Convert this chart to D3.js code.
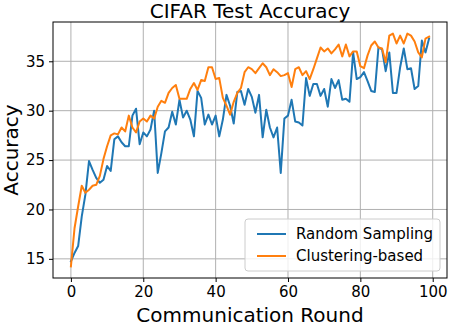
<!DOCTYPE html>
<html>
<head>
<meta charset="utf-8">
<script src="https://cdn.jsdelivr.net/npm/d3@7"></script>
<style>
  body { margin: 0; background: #fff; }
  text { font-family: "DejaVu Sans", sans-serif; fill: #000; }
  .grid line { stroke: #b0b0b0; stroke-width: 1; }
  .axis path, .axis line { stroke: #000; }
  .axis text { font-size: 15px; }
</style>
</head>
<body>
<div id="graph"></div>
<script>
// chart data
var seriesNames = ["Random Sampling", "Clustering-based"];
var xTicks = [0, 20, 40, 60, 80, 100];
var yTicks = [15, 20, 25, 30, 35];

var randomSampling = [
  14.75, 15.6, 16.3, 19.3, 21.5, 24.9, 24.0, 23.2, 22.7, 23.0,
  24.4, 23.9, 27.1, 27.4, 26.8, 26.4, 26.4, 29.5, 30.2, 26.6,
  27.8, 27.4, 28.1, 30.0, 23.7, 25.7, 27.9, 28.3, 29.9, 28.6,
  31.1, 29.3, 30.0, 29.1, 27.4, 32.0, 31.3, 28.6, 29.6, 28.6,
  29.5, 27.4, 29.1, 31.6, 30.5, 28.7, 31.9, 32.0, 30.6, 32.2,
  31.4, 29.8, 31.6, 27.3, 30.1, 28.3, 27.3, 28.3, 23.7, 29.2,
  29.5, 31.1, 28.9, 28.8, 28.5, 33.3, 31.5, 32.7, 32.7, 31.5,
  32.2, 30.4, 33.2, 32.3, 33.1, 31.1, 31.2, 30.9, 35.9, 33.2,
  33.4, 33.9, 33.0, 32.0, 31.9, 36.4, 36.2, 34.0, 35.9, 31.8,
  31.8, 34.4, 36.3, 34.2, 34.3, 32.2, 32.5, 37.1, 35.9, 37.3
];

var clusteringBased = [
  14.24, 18.1, 20.3, 22.4, 21.7, 22.0, 22.4, 22.5, 23.4, 25.1,
  26.4, 27.5, 27.7, 27.6, 28.3, 27.9, 29.5, 28.3, 27.8, 28.9,
  29.2, 28.9, 29.5, 29.2, 30.4, 31.0, 30.8, 31.8, 32.3, 32.6,
  31.2, 31.2, 31.2, 32.2, 32.8, 32.1, 33.1, 33.0, 34.4, 34.4,
  33.2, 33.3, 31.3, 30.5, 29.6, 30.9, 31.8, 32.3, 33.9, 34.4,
  34.2, 33.8, 34.3, 34.8, 34.4, 33.6, 34.2, 33.9, 33.5, 33.6,
  33.8, 32.4, 34.2, 34.4, 33.6, 34.0, 33.2, 34.2, 35.3, 36.4,
  36.0, 36.3, 35.8, 36.2, 36.7, 35.5, 36.7, 35.5, 36.0, 36.0,
  34.5, 34.3, 35.6, 36.6, 37.0, 36.4, 36.3, 34.9, 37.6, 37.8,
  36.8, 37.6, 36.8, 37.8, 37.6, 37.0, 35.9, 35.4, 37.3, 37.5
];

var colors = ["#1f77b4", "#ff7f0e"];

// Set the dimensions of the canvas
var margin = {top: 22, right: 2, bottom: 49, left: 53},
    width = 449 - margin.left - margin.right,
    height = 327 - margin.top - margin.bottom;

var series = [randomSampling, clusteringBased];
var n = randomSampling.length;

// matplotlib style 5% padding
var xPad = (n - 1) * 0.05;
var allVals = randomSampling.concat(clusteringBased);
var yMin = d3.min(allVals), yMax = d3.max(allVals);
var yPad = (yMax - yMin) * 0.05;

var x = d3.scaleLinear().domain([-xPad, n - 1 + xPad]).range([0, width]);
var y = d3.scaleLinear().domain([yMin - yPad, yMax + yPad]).range([height, 0]);

var svg = d3.select("#graph")
    .append("svg")
        .attr("width", 449)
        .attr("height", 327)
    .append("g")
        .attr("transform", "translate(" + margin.left + "," + margin.top + ")");

// grid
svg.append("g")
    .attr("class", "grid")
    .selectAll("line.gx")
    .data(xTicks)
    .enter().append("line")
    .attr("x1", function(d) { return x(d); })
    .attr("x2", function(d) { return x(d); })
    .attr("y1", 0)
    .attr("y2", height);

svg.select(".grid")
    .selectAll("line.gy")
    .data(yTicks)
    .enter().append("line")
    .attr("class", "gy")
    .attr("x1", 0)
    .attr("x2", width)
    .attr("y1", function(d) { return y(d); })
    .attr("y2", function(d) { return y(d); });

// lines
var valueline = d3.line()
    .x(function(d, i) { return x(i); })
    .y(function(d) { return y(d); });

svg.selectAll(".series")
    .data(series)
    .enter().append("path")
    .attr("class", "series")
    .attr("d", valueline)
    .style("fill", "none")
    .style("stroke", function(d, i) { return colors[i]; })
    .style("stroke-width", 2)
    .style("stroke-linejoin", "round")
    .style("stroke-linecap", "square");

// axes
svg.append("g")
    .attr("class", "axis xaxis")
    .attr("transform", "translate(0," + height + ")")
    .call(d3.axisBottom(x).tickValues(xTicks).tickSize(4).tickSizeOuter(0).tickPadding(4));

svg.append("g")
    .attr("class", "axis yaxis")
    .call(d3.axisLeft(y).tickValues(yTicks).tickSize(4).tickSizeOuter(0).tickPadding(4));

svg.selectAll(".axis .domain").remove();

// frame
svg.append("rect")
    .attr("width", width)
    .attr("height", height)
    .style("fill", "none")
    .style("stroke", "#000")
    .style("stroke-width", 1);

// title and labels
svg.append("text")
    .attr("text-anchor", "middle")
    .attr("x", width / 2)
    .attr("y", -4)
    .style("font-size", "20px")
    .text("CIFAR Test Accuracy");

svg.append("text")
    .attr("text-anchor", "middle")
    .attr("x", width / 2)
    .attr("y", height + 44)
    .style("font-size", "20px")
    .text("Communication Round");

svg.append("text")
    .attr("text-anchor", "middle")
    .attr("transform", "rotate(-90)")
    .attr("x", -height / 2)
    .attr("y", -35)
    .style("font-size", "20px")
    .text("Accuracy");

// legend
var legend = svg.append("g")
    .attr("transform", "translate(" + (width - 202) + "," + (height - 59) + ")");

legend.append("rect")
    .attr("width", 195)
    .attr("height", 52)
    .attr("rx", 3)
    .style("fill", "#fff")
    .style("fill-opacity", 0.8)
    .style("stroke", "#cccccc");

var item = legend.selectAll(".item")
    .data(seriesNames)
    .enter().append("g")
    .attr("class", "item")
    .attr("transform", function(d, i) { return "translate(0," + (15 + i * 22) + ")"; });

item.append("line")
    .attr("x1", 12)
    .attr("x2", 41)
    .style("stroke", function(d, i) { return colors[i]; })
    .style("stroke-width", 2);

item.append("text")
    .attr("x", 51)
    .attr("y", 5)
    .style("font-size", "15px")
    .text(function(d) { return d; });
</script>
</body>
</html>
